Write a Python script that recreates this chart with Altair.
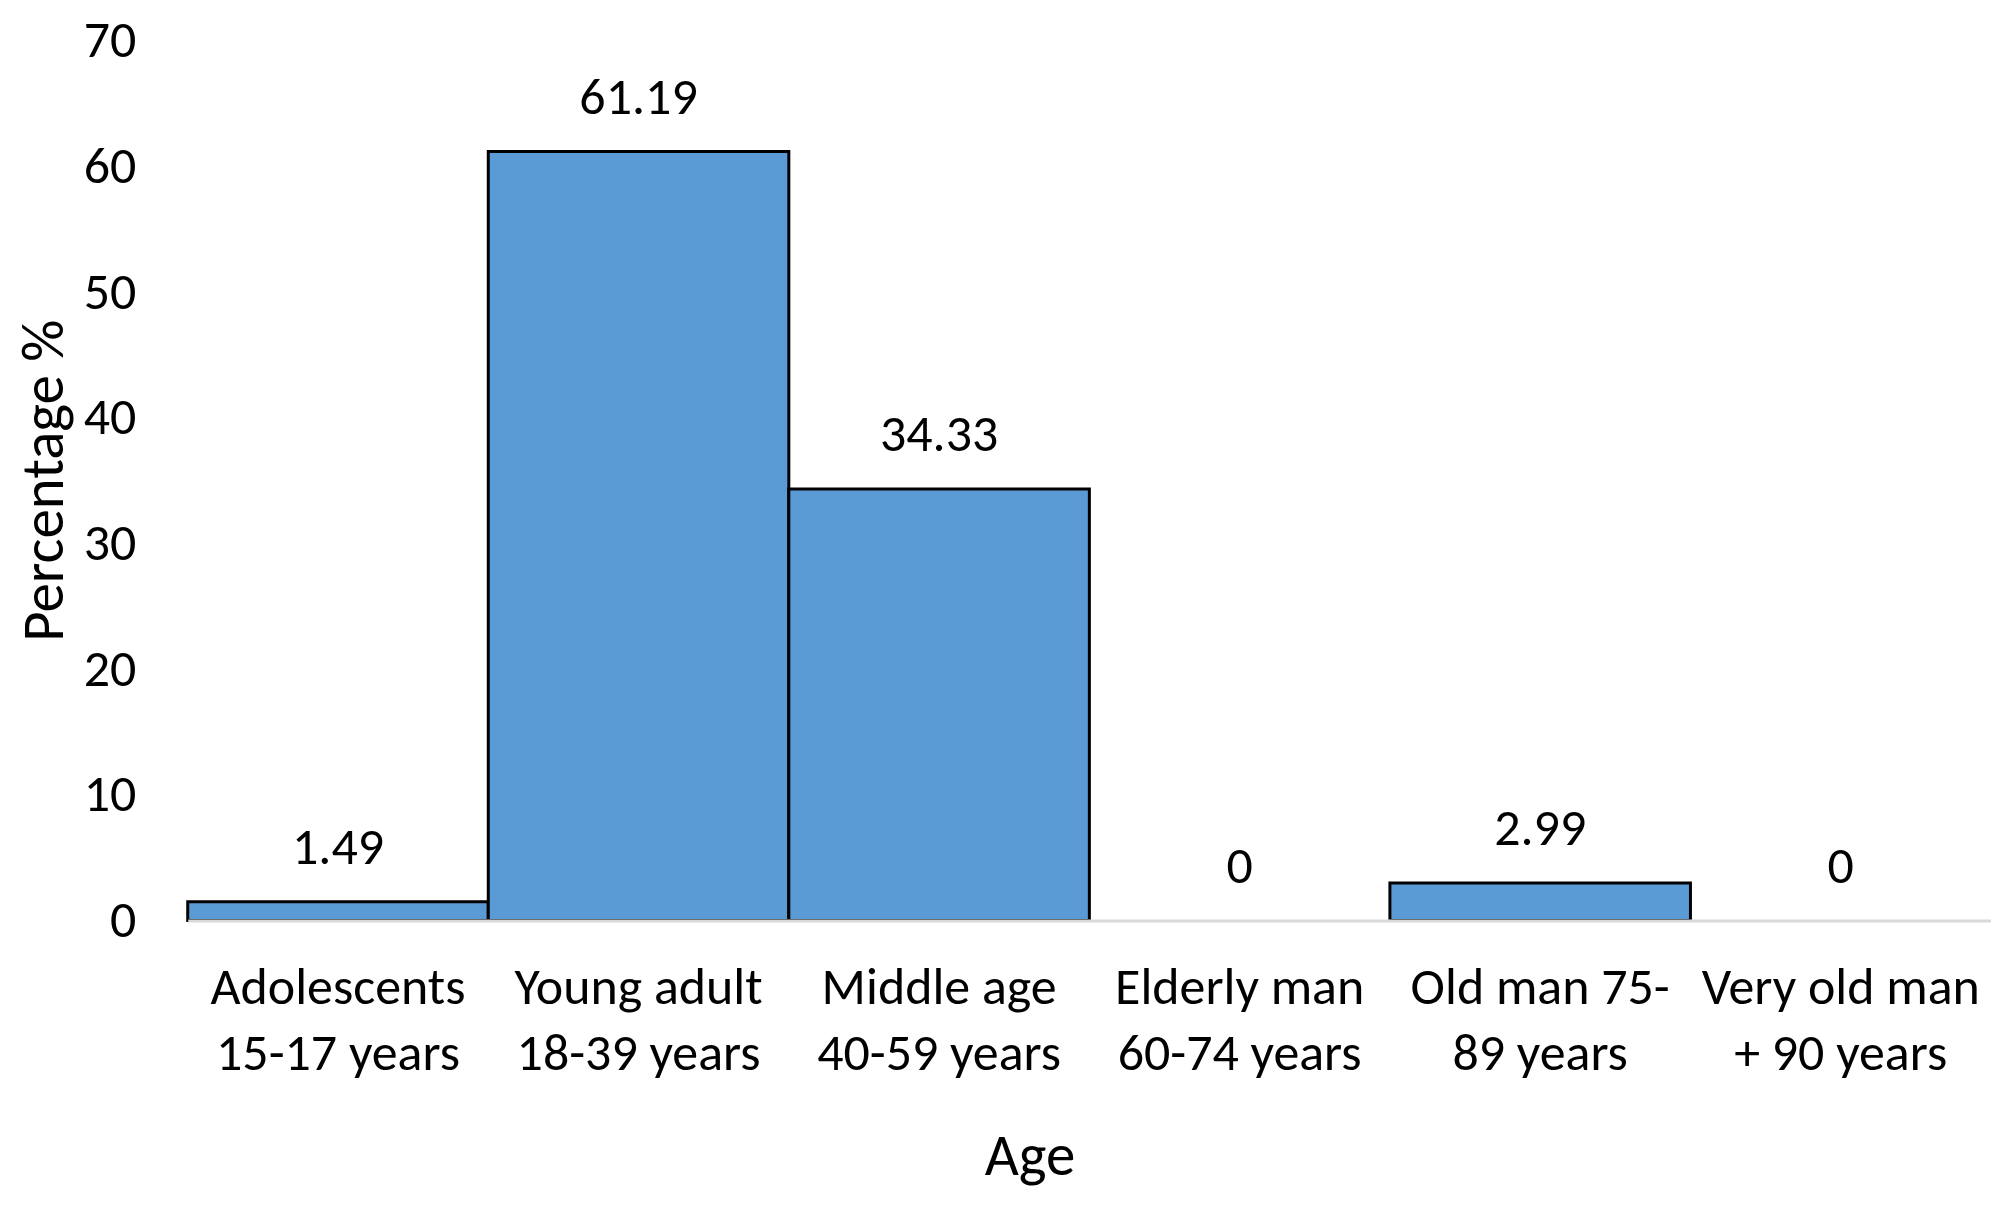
import altair as alt
import pandas as pd

categories = [
    "Adolescents\n15-17 years",
    "Young adult\n18-39 years",
    "Middle age\n40-59 years",
    "Elderly man\n60-74 years",
    "Old man 75-\n89 years",
    "Very old man\n+ 90 years",
]
values = [1.49, 61.19, 34.33, 0, 2.99, 0]
labels = ["1.49", "61.19", "34.33", "0", "2.99", "0"]

df = pd.DataFrame({"cat": categories, "val": values, "lab": labels})

FONT = "Calibri, Carlito, Lato"
FS = 52
TFS = 59

x = alt.X(
    "cat:N",
    sort=categories,
    scale=alt.Scale(paddingInner=0, paddingOuter=0),
    axis=alt.Axis(
        title="Age",
        labelExpr="split(datum.label, '\\n')",
        labelAngle=0,
        labelFont=FONT,
        labelFontSize=FS,
        labelColor="black",
        labelLineHeight=66,
        labelPadding=42,
        labelBaseline="top",
        labelLimit=0,
        ticks=False,
        domainColor="#d9d9d9",
        domainWidth=3,
        zindex=1,
        titleFont=FONT,
        titleFontSize=TFS,
        titleFontWeight="normal",
        titleColor="black",
        titleX=843,
        titleY=236,
        titleBaseline="middle",
        titleAnchor="start",
        titleAlign="center",
    ),
)

y = alt.Y(
    "val:Q",
    scale=alt.Scale(domain=[0, 70]),
    axis=alt.Axis(
        title="Percentage %",
        values=[0, 10, 20, 30, 40, 50, 60, 70],
        grid=False,
        domain=False,
        ticks=False,
        labelFont=FONT,
        labelFontSize=FS,
        labelColor="black",
        labelPadding=52,
        titleFont=FONT,
        titleFontSize=TFS,
        titleFontWeight="normal",
        titleColor="black",
        titleX=-143,
        titleY=440,
        titleBaseline="middle",
        titleAlign="center",
        titleAnchor="start",
    ),
)

bars = alt.Chart(df).transform_filter("datum.val > 0").mark_bar(
    color="#5B9BD5", stroke="black", strokeWidth=3
).encode(x=x, y=y)

text = alt.Chart(df).mark_text(
    font=FONT, fontSize=FS, color="black", baseline="alphabetic", dy=-38
).encode(x=x, y=y, text="lab:N")

chart = (
    alt.layer(bars, text)
    .properties(
        width=1806,
        height=881,
        autosize=alt.AutoSizeParams(type="none"),
        padding={"left": 180, "top": 32, "right": 0, "bottom": 280},
    )
    .configure(background="white")
    .configure_view(strokeWidth=0, stroke="transparent")
)

chart.save("out.html", embed_options={"renderer": "svg", "actions": False})
